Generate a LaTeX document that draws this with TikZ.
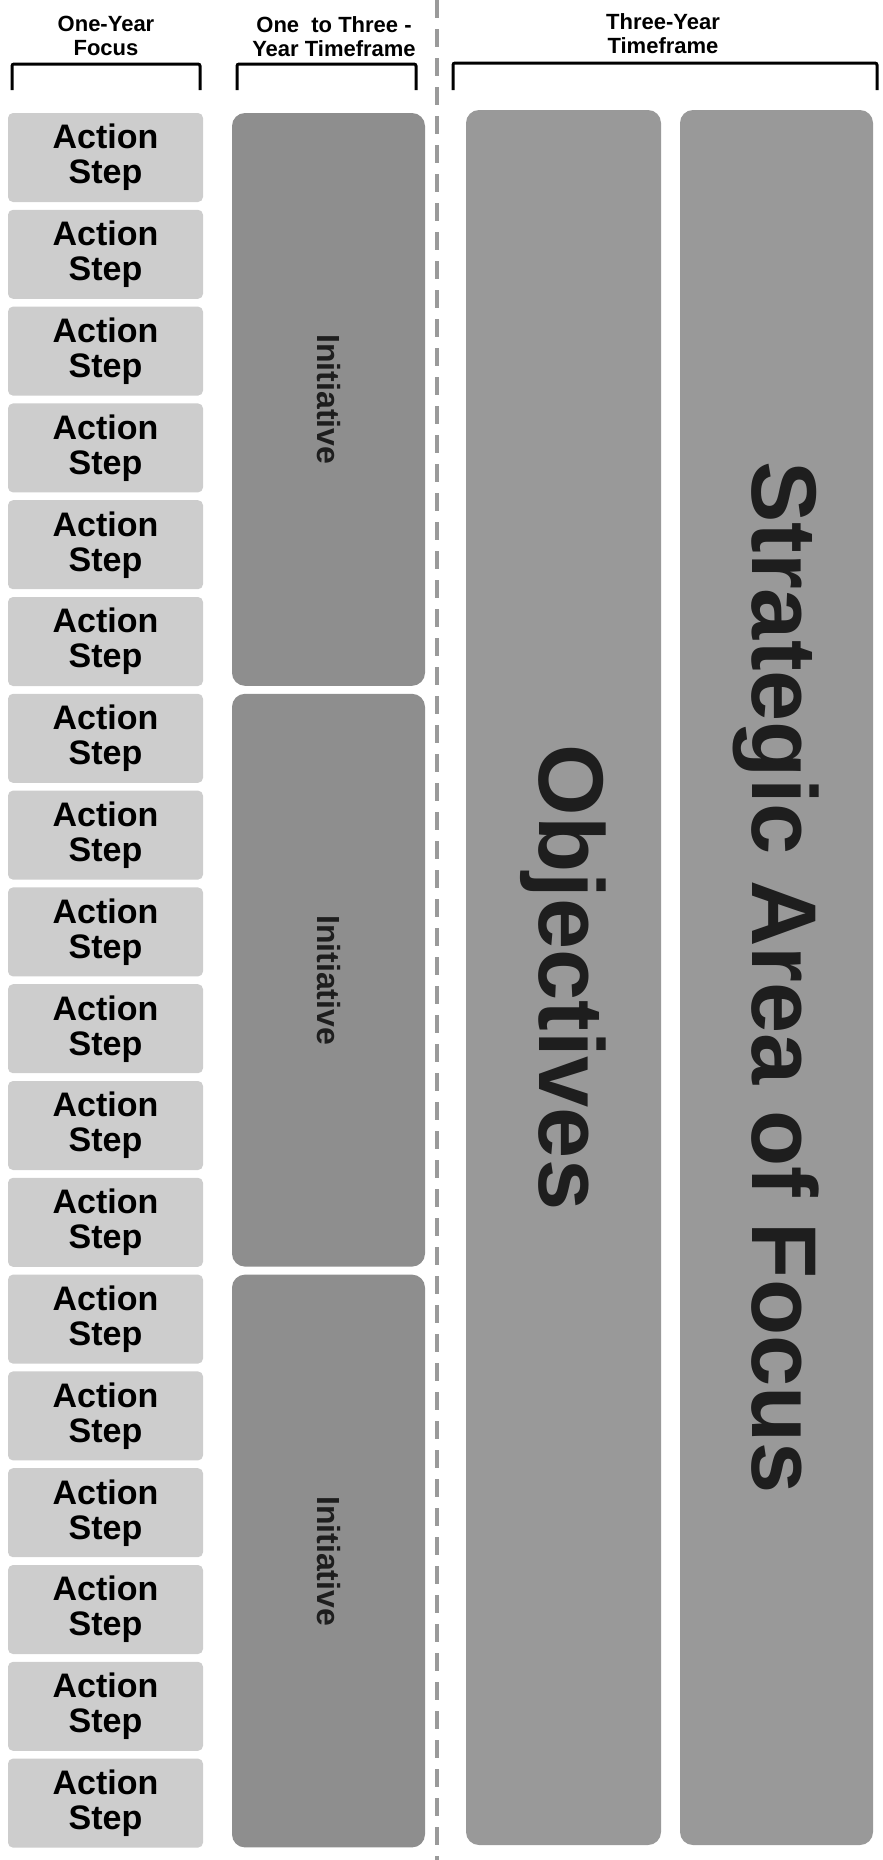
\documentclass[tikz,border=0pt]{standalone}
\usepackage{fontspec}
\setmainfont{Liberation Sans}
\usepackage{tikz}
\usetikzlibrary{positioning}
\definecolor{mstep}{HTML}{CDCDCD}
\definecolor{minit}{HTML}{8E8E8E}
\definecolor{mobj}{HTML}{999999}
\definecolor{mtext}{HTML}{1E1E1E}
\definecolor{mdash}{HTML}{9A9A9A}
\tikzset{
  head/.style={align=center,font=\bfseries\fontsize{11}{12}\selectfont},
  bracket/.style={draw=black,line width=1.5pt,rounded corners=1pt},
  stepbox/.style={fill=mstep,rounded corners=2.5pt,minimum width=97.5pt,minimum height=44.5pt,
    inner sep=0pt,align=center,font=\bfseries\fontsize{17}{17.5}\selectfont},
  initbox/.style={fill=minit,rounded corners=6.5pt,minimum width=96.5pt,minimum height=286.4pt,inner sep=0pt},
  tallbox/.style={fill=mobj,rounded corners=6.5pt,minimum width=#1,minimum height=867.5pt,inner sep=0pt},
  vlabel/.style={rotate=-90,text=mtext,font=\bfseries\fontsize{#1}{#1}\selectfont},
  divider/.style={draw=mdash,line width=2pt,dash pattern=on 9pt off 5.5pt},
}
\begin{document}
\begin{tikzpicture}[x=0.5pt,y=-0.5pt]
    \useasboundingbox (0,0) rectangle (883,1860);
    % column headers
    \node[head] (h1) at (106,36) {One-Year\\Focus};
    \node[head] (h2) at (334,37) {One~ to Three -\\Year Timeframe};
    \node[head] (h3) at (663,34) {Three-Year\\Timeframe};
    % brackets
    \draw[bracket] (12,90) -- (12,64) -- (200,64) -- (200,90);
    \draw[bracket] (237,90) -- (237,64) -- (416,64) -- (416,90);
    \draw[bracket] (453,90) -- (453,63) -- (877,63) -- (877,90);
    % divider
    \coordinate (dtop) at (437,0);
    \coordinate (dbot) at (437,1860);
    \draw[divider] (dtop) -- (dbot);
    % action steps
    \foreach \i in {0,...,17}
      \node[stepbox] (as\i) at (105.5,{157.5+96.8*\i}) {Action\\Step};
    % initiatives
    \foreach \k in {0,1,2}{
      \node[initbox] (init\k) at (328.5,{399.4+580.8*\k}) {};
      \node[vlabel=16] (initl\k) at (init\k.center) {Initiative};
    }
    % three-year columns
    \node[tallbox=97.5pt] (obj) at (563.5,977.5) {};
    \node[vlabel=46] (objl) at (obj.center) {Objectives};
    \node[tallbox=96.5pt] (area) at (776.5,977.5) {};
    \node[vlabel=46] (areal) at (area.center) {Strategic Area of Focus};
  \end{tikzpicture}
\end{document}
